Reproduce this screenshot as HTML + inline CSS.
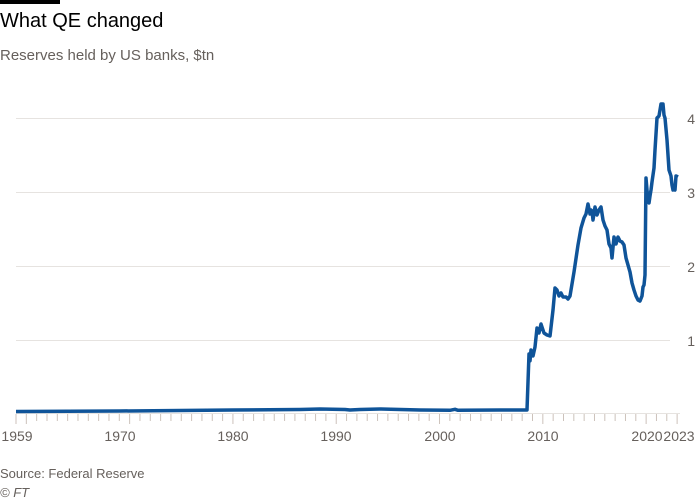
<!DOCTYPE html>
<html><head><style>
body{margin:0;width:700px;height:500px;background:#fff;font-family:"Liberation Sans",sans-serif;overflow:hidden;position:relative}
.t{position:absolute;left:0;top:10px;font-size:20px;color:#000}
.s{position:absolute;left:0;top:47px;font-size:15px;color:#66605c}
.f{position:absolute;left:0;font-size:13px;color:#66605c}
</style></head><body>
<div style="position:absolute;left:0;top:0;width:60px;height:4px;background:#000"></div>
<div class="t">What QE changed</div>
<div class="s">Reserves held by US banks, $tn</div>
<svg width="700" height="500" style="position:absolute;left:0;top:0">
<g stroke="#e6e3e0" stroke-width="1">
<line x1="16" x2="670" y1="118.5" y2="118.5"/>
<line x1="16" x2="670" y1="192.5" y2="192.5"/>
<line x1="16" x2="670" y1="266.5" y2="266.5"/>
<line x1="16" x2="670" y1="340.5" y2="340.5"/>
<line x1="16" x2="680" y1="413.5" y2="413.5"/>
</g>
<g id="ticks" stroke="#ccc2bb" stroke-width="1"></g>
<g font-size="14" fill="#66605c" text-anchor="end">
<text x="695" y="124">4</text><text x="695" y="198">3</text><text x="695" y="272">2</text><text x="695" y="346">1</text>
</g>
<g font-size="14" fill="#66605c" text-anchor="middle">
<text x="17" y="441">1959</text><text x="120" y="441">1970</text><text x="233" y="441">1980</text><text x="336" y="441">1990</text><text x="440" y="441">2000</text><text x="543" y="441">2010</text><text x="647" y="441">2020</text><text x="679" y="441">2023</text>
</g>
<polyline fill="none" stroke="#0f5499" stroke-width="3.5" stroke-linejoin="round" points="16,411.5 120,411 233,410 300,409.5 320,409 345,409.5 350,410 360,409.5 380,409 420,410 450,410.3 455,409.3 458,410.3 500,410 527,410 529,354 530,361 531,350 533,356 535,347 537,328 539,333 541,324 544,333 547,335 550,336 553,310 555,288 557,290 559,296 561,293 563,297 566,297 568,299 570,296 574,272 578,245 581,228 584,218 586,214 588,204 590,214 591,210 592,211 593,220 595,207 597,215 599,210 601,207 603,220 605,226 607,230 609,244 611,248 612,258 614,237 616,244 618,237 620,241 622,242 624,245 626,258 628,265 630,272 632,283 634,290 636,296 638,300 640,301 642,296 643,287 644,285 645,275 646,178 647,190 648,200 649,203 650,196 651,190 652,182 654,168 655,150 657,118 659,116 660,110 661,104 663,104 664,115 665,118 667,140 669,170 671,176 672,185 673,190 674,188 675,190 676,176 678,177"/>
</svg>
<div class="f" style="top:466px">Source: Federal Reserve</div>
<div class="f" style="top:485px;font-style:italic">© FT</div>
<script>
var g=document.getElementById('ticks'),s='';
for(var y=1959;y<=2023;y++){var x=16+(y-1959)*10.33;s+='<line x1="'+x+'" x2="'+x+'" y1="414" y2="'+(y%10==0||y==1959||y==2023?424:421)+'"/>';}
g.innerHTML=s;
</script>
</body></html>
